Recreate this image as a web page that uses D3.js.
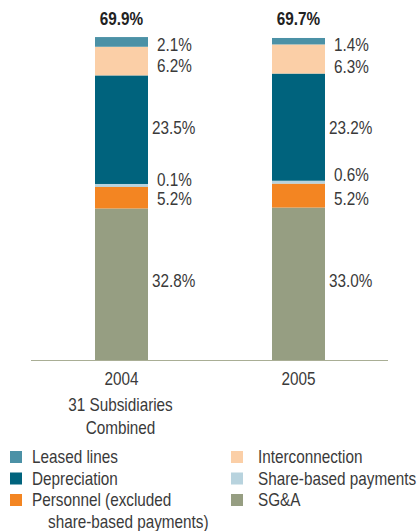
<!DOCTYPE html>
<html>
<head>
<meta charset="utf-8">
<script src="https://cdn.jsdelivr.net/npm/d3@7"></script>
<style>
  html, body { margin: 0; padding: 0; background: #fff; }
  svg { display: block; }
  text { font-family: "Liberation Sans", Arial, sans-serif; fill: #3a3a3a; }
</style>
</head>
<body>
<svg id="chart" width="420" height="531"></svg>
<script>
// ---- data ----
const categories = ["2004", "2005"];
const subLabel = ["31 Subsidiaries", "Combined"];
const seriesNames = ["Leased lines", "Interconnection", "Depreciation", "Share-based payments", "Personnel (excluded share-based payments)", "SG&A"];
const leasedLines = [2.1, 1.4];
const interconnection = [6.2, 6.3];
const depreciation = [23.5, 23.2];
const shareBased = [0.1, 0.6];
const personnel = [5.2, 5.2];
const sga = [32.8, 33.0];
const seriesColors = ["#4b91a6", "#fbcfa7", "#00637d", "#b8d3de", "#f38522", "#969e82"];

// ---- build stack ----
const seriesValues = [leasedLines, interconnection, depreciation, shareBased, personnel, sga];
const table = categories.map((c, i) => {
  const row = { cat: c };
  seriesNames.forEach((s, j) => row[s] = seriesValues[j][i]);
  return row;
});
const stackOrder = seriesNames.slice().reverse(); // SG&A at bottom
const stacked = d3.stack().keys(stackOrder)(table);

const svg = d3.select("#chart");
const x = d3.scaleBand().domain(categories).range([32, 388]).paddingInner(0.7006).paddingOuter(0.356);
const y = d3.scaleLinear().domain([0, 70]).range([360, 36.6]);
const color = d3.scaleOrdinal().domain(seriesNames).range(seriesColors);

const SX = 0.85; // narrow type
function addText(px, py, str, opts = {}) {
  const t = svg.append("text")
    .attr("transform", `translate(${px},${py}) scale(${SX},1)`)
    .attr("font-size", opts.size || 18)
    .attr("text-anchor", opts.anchor || "start")
    .text(str);
  if (opts.bold) t.attr("font-weight", "bold");
  if (opts.fill) t.style("fill", opts.fill);
  return t;
}

// bars
const g = svg.append("g");
stacked.forEach(layer => {
  g.selectAll(null).data(layer).enter().append("rect")
    .attr("x", d => x(d.data.cat))
    .attr("width", x.bandwidth())
    .attr("y", d => y(d[1]))
    .attr("height", d => Math.max(3, y(d[0]) - y(d[1])))
    .attr("fill", color(layer.key));
});

// baseline
svg.append("line")
  .attr("x1", 31).attr("x2", 388)
  .attr("y1", y(0) + 0.5).attr("y2", y(0) + 0.5)
  .attr("stroke", "#a9ae95").attr("stroke-width", 1.2);

// segment value labels (nudged apart where segments are thin)
const nudge = {
  "Leased lines": [2.5, 3.3],
  "Interconnection": [4.4, 7.5],
  "Depreciation": [-2.2, 0.3],
  "Share-based payments": [-4.7, -7.6],
  "Personnel (excluded share-based payments)": [2.2, 3],
  "SG&A": [-3.8, -3.3]
};
stacked.forEach(layer => {
  layer.forEach((d, i) => {
    const v = d.data[layer.key];
    const cy = (y(d[0]) + y(d[1])) / 2 + nudge[layer.key][i];
    addText(x(d.data.cat) + x.bandwidth() + (v >= 10 ? 4 : 9), cy + 6.5, v.toFixed(1) + "%");
  });
});

// totals
categories.forEach((c, i) => {
  const total = d3.sum(seriesValues, s => s[i]);
  addText(x(c) + x.bandwidth() / 2, 25, total.toFixed(1) + "%", { anchor: "middle", bold: true, fill: "#222" });
});

// x axis labels
const xAxis = d3.axisBottom(x).tickSize(0).tickPadding(0);
const ax = svg.append("g").attr("transform", `translate(0,${385})`).call(xAxis);
ax.select(".domain").remove();
ax.selectAll("text").attr("font-size", 18).attr("dy", 0).attr("y", 0)
  .attr("transform", `scale(${SX},1)`)
  .style("font-family", "\"Liberation Sans\", Arial, sans-serif").style("fill", "#3a3a3a");

subLabel.forEach((t, k) => {
  addText(x(categories[0]) + x.bandwidth() / 2 - 1, 411 + k * 23, t, { anchor: "middle" });
});

// legend
const legendLayout = [
  { name: "Leased lines", col: 0, row: 0 },
  { name: "Interconnection", col: 1, row: 0 },
  { name: "Depreciation", col: 0, row: 1 },
  { name: "Share-based payments", col: 1, row: 1 },
  { name: "Personnel (excluded share-based payments)", col: 0, row: 2, lines: ["Personnel (excluded", "share-based payments)"] },
  { name: "SG&A", col: 1, row: 2 }
];
const colX = [10, 231], textX = [32, 258];
legendLayout.forEach(item => {
  const by = 463 + item.row * 21.5;
  svg.append("rect")
    .attr("x", colX[item.col]).attr("y", by - 12)
    .attr("width", 12).attr("height", 12)
    .attr("fill", color(item.name));
  const lines = item.lines || [item.name];
  lines.forEach((ln, k) => {
    addText(k === 0 ? textX[item.col] : 48, by + k * 22, ln);
  });
});
</script>
</body>
</html>
